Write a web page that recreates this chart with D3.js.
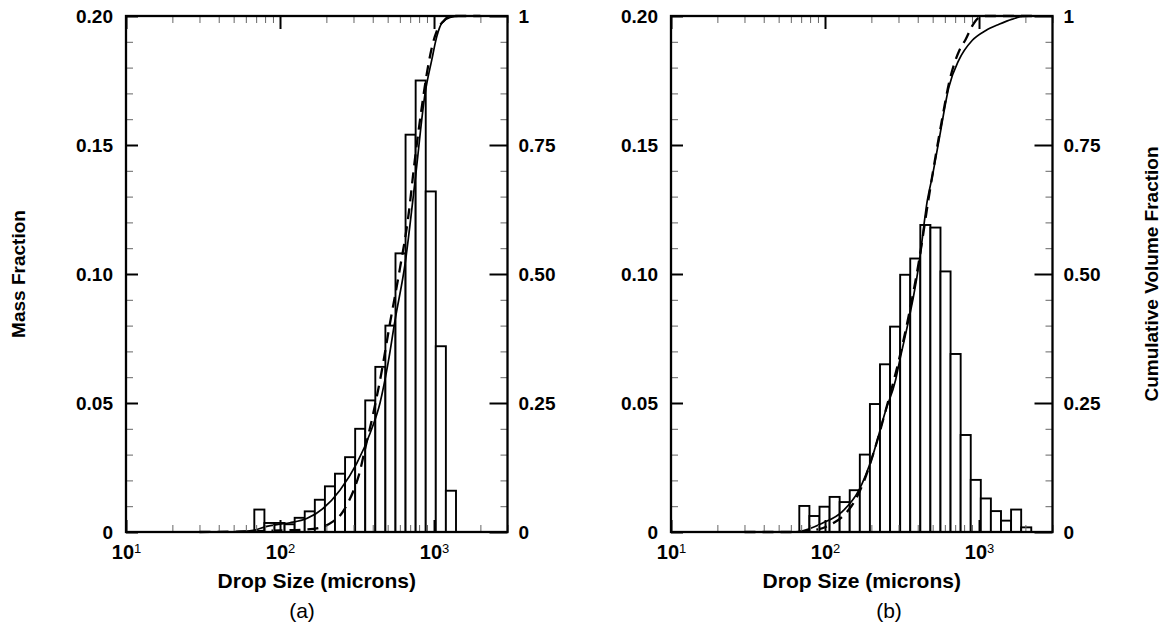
<!DOCTYPE html>
<html>
<head>
<meta charset="utf-8">
<script src="https://cdn.jsdelivr.net/npm/d3@7"></script>
<style>
  html, body { margin: 0; padding: 0; background: #fff; }
  svg { display: block; }
  text { font-family: "Liberation Sans", Arial, Helvetica, sans-serif; }
</style>
</head>
<body>
<svg id="chart" width="1170" height="640"></svg>
<script>
// ---------------- data ----------------
const xDomain = [10, 3000];
const xMajorTicks = [10, 100, 1000];
const xMinorTicks = [20, 30, 40, 50, 60, 70, 80, 90, 200, 300, 400, 500, 600, 700, 800, 900, 2000, 3000];
const xTickExponents = ["1", "2", "3"];

const massMajorTicks = [0, 0.05, 0.10, 0.15, 0.20];
const massTickLabels = ["0", "0.05", "0.10", "0.15", "0.20"];
const massMinorTicks = [0.01, 0.02, 0.03, 0.04, 0.06, 0.07, 0.08, 0.09, 0.11, 0.12, 0.13, 0.14, 0.16, 0.17, 0.18, 0.19];
const cumMajorTicks = [0, 0.25, 0.5, 0.75, 1];
const cumTickLabels = ["0", "0.25", "0.50", "0.75", "1"];
const cumMinorTicks = [0.05, 0.1, 0.15, 0.2, 0.3, 0.35, 0.4, 0.45, 0.55, 0.6, 0.65, 0.7, 0.8, 0.85, 0.9, 0.95];

// histogram bin edges (microns), shared by both panels
const binEdges = [68.1, 79.2, 92.1, 107.1, 124.5, 144.7, 168.3, 195.7, 227.5, 264.5, 307.6, 357.6,
                  415.8, 483.4, 562.1, 653.5, 759.9, 883.5, 1027, 1194, 1389, 1615, 1878, 2184];

// panel (a)
const massA = [0.0087, 0.0035, 0.0035, 0.003, 0.0055, 0.008, 0.0125, 0.0177, 0.0226, 0.029,
               0.040, 0.051, 0.064, 0.080, 0.108, 0.154, 0.175, 0.132, 0.072, 0.016];
const solidSizeA = [50, 67, 82, 100, 116, 149, 191, 245, 315, 384, 446, 505, 558, 649, 753, 875, 967, 1042, 1122, 1271, 1500, 2000];
const solidCumA  = [0, 0.003, 0.011, 0.015, 0.018, 0.026, 0.046, 0.081, 0.133, 0.191, 0.25, 0.33, 0.41, 0.52, 0.68, 0.85, 0.915, 0.96, 0.986, 0.997, 1.0, 1.0];
const dashSizeA  = [30, 60, 100, 150, 190, 220, 250, 280, 300, 325, 356, 400, 450, 518, 600, 680, 750, 830, 900, 970, 1040, 1150, 1300, 2000];
const dashCumA   = [0, 0.001, 0.003, 0.005, 0.01, 0.02, 0.035, 0.06, 0.08, 0.11, 0.16, 0.225, 0.3, 0.405, 0.51, 0.61, 0.72, 0.82, 0.89, 0.94, 0.97, 0.99, 1.0, 1.0];

// panel (b)
const massB = [0.0101, 0.0062, 0.0098, 0.0136, 0.0116, 0.0162, 0.030, 0.0496, 0.065, 0.0796, 0.0997, 0.106,
               0.119, 0.118, 0.101, 0.069, 0.0376, 0.0202, 0.013, 0.0081, 0.0044, 0.0087, 0.0018];
const solidSizeB = [60, 68, 96, 130, 166, 203, 248, 287, 303, 408, 462, 498, 550, 638, 741, 905, 1107, 1349, 1645, 1909, 2450];
const solidCumB  = [0, 0.001, 0.017, 0.04, 0.081, 0.146, 0.236, 0.294, 0.327, 0.52, 0.643, 0.69, 0.76, 0.863, 0.915, 0.953, 0.972, 0.984, 0.994, 0.999, 1.0];
const dashSizeB  = [30, 60, 90, 110, 133, 153, 180, 210, 250, 300, 350, 410, 470, 560, 650, 750, 820, 900, 1000, 1100, 2400];
const dashCumB   = [0, 0, 0.005, 0.015, 0.033, 0.056, 0.1, 0.16, 0.24, 0.33, 0.42, 0.53, 0.645, 0.78, 0.88, 0.935, 0.955, 0.98, 0.997, 1.0, 1.0];

const panelLabels = ["(a)", "(b)"];
const xTitle = "Drop Size (microns)";
const yLeftTitle = "Mass Fraction";
const yRightTitle = "Cumulative Volume Fraction";

// ---------------- layout ----------------
const svg = d3.select("#chart");
svg.append("rect").attr("width", 1170).attr("height", 640).attr("fill", "#fff");

const yTop = 16, yBottom = 532;
const panelWidth = 381.5;
const panels = [
  { x0: 126, captionX: 302, mass: massA, solid: [solidSizeA, solidCumA], dash: [dashSizeA, dashCumA], label: panelLabels[0] },
  { x0: 671, captionX: 889, mass: massB, solid: [solidSizeB, solidCumB], dash: [dashSizeB, dashCumB], label: panelLabels[1] }
];

const yMass = d3.scaleLinear().domain([0, 0.2]).range([yBottom, yTop]);
const yCum = d3.scaleLinear().domain([0, 1]).range([yBottom, yTop]);

panels.forEach(p => {
  const x = d3.scaleLog().domain(xDomain).range([p.x0, p.x0 + panelWidth]);
  const g = svg.append("g");

  // bars
  g.append("g").selectAll("rect").data(p.mass).join("rect")
    .attr("x", (d, i) => x(binEdges[i]))
    .attr("width", (d, i) => x(binEdges[i + 1]) - x(binEdges[i]))
    .attr("y", d => yMass(d))
    .attr("height", d => yMass(0) - yMass(d))
    .attr("fill", "#fff")
    .attr("stroke", "#000")
    .attr("stroke-width", 1.9);

  // curves
  const line = d3.line().x(d => x(d[0])).y(d => yCum(d[1])).curve(d3.curveMonotoneX);
  const solidPts = p.solid[0].map((s, i) => [s, p.solid[1][i]]);
  const dashPts = p.dash[0].map((s, i) => [s, p.dash[1][i]]);
  g.append("path").attr("d", line(dashPts)).attr("fill", "none")
    .attr("stroke", "#000").attr("stroke-width", 2.3).attr("stroke-dasharray", "11,7");
  g.append("path").attr("d", line(solidPts)).attr("fill", "none")
    .attr("stroke", "#000").attr("stroke-width", 1.7);

  // axes
  const styleAxis = (sel, majorW) => {
    sel.select(".domain").remove();
    sel.selectAll(".tick line").attr("stroke", "#000").attr("stroke-width", majorW);
  };
  // bottom
  g.append("g").attr("transform", `translate(0,${yBottom})`)
    .call(d3.axisBottom(x).tickValues(xMinorTicks).tickSize(-7).tickFormat(""))
    .call(s => styleAxis(s, 1)).selectAll(".tick line").attr("stroke", "#666");
  const bx = g.append("g").attr("transform", `translate(0,${yBottom})`)
    .call(d3.axisBottom(x).tickValues(xMajorTicks).tickSize(-12).tickPadding(13).tickFormat(""))
    .call(s => styleAxis(s, 2));
  bx.selectAll(".tick text").each(function(d, i) {
    const t = d3.select(this).attr("fill", "#000").attr("font-size", 20).attr("font-weight", "bold");
    t.append("tspan").text("10");
    t.append("tspan").attr("dy", "-0.45em").attr("font-size", 13).attr("font-weight", "normal").text(xTickExponents[i]);
  });
  // top
  g.append("g").attr("transform", `translate(0,${yTop})`)
    .call(d3.axisTop(x).tickValues(xMinorTicks).tickSize(-7).tickFormat(""))
    .call(s => styleAxis(s, 1)).selectAll(".tick line").attr("stroke", "#666");
  g.append("g").attr("transform", `translate(0,${yTop})`)
    .call(d3.axisTop(x).tickValues(xMajorTicks).tickSize(-13).tickFormat(""))
    .call(s => styleAxis(s, 2));
  // left
  g.append("g").attr("transform", `translate(${p.x0},0)`)
    .call(d3.axisLeft(yMass).tickValues(massMinorTicks).tickSize(-7).tickFormat(""))
    .call(s => styleAxis(s, 1)).selectAll(".tick line").attr("stroke", "#666");
  g.append("g").attr("transform", `translate(${p.x0},0)`)
    .call(d3.axisLeft(yMass).tickValues(massMajorTicks).tickSize(-12).tickPadding(13)
      .tickFormat((d, i) => massTickLabels[i]))
    .call(s => styleAxis(s, 2))
    .selectAll(".tick text").attr("fill", "#000").attr("font-size", 19).attr("font-weight", "bold");
  // right
  const xr = p.x0 + panelWidth;
  g.append("g").attr("transform", `translate(${xr},0)`)
    .call(d3.axisRight(yCum).tickValues(cumMinorTicks).tickSize(-7).tickFormat(""))
    .call(s => styleAxis(s, 1)).selectAll(".tick line").attr("stroke", "#666");
  g.append("g").attr("transform", `translate(${xr},0)`)
    .call(d3.axisRight(yCum).tickValues(cumMajorTicks).tickSize(-18).tickPadding(11)
      .tickFormat((d, i) => cumTickLabels[i]))
    .call(s => styleAxis(s, 2))
    .selectAll(".tick text").attr("fill", "#000").attr("font-size", 19).attr("font-weight", "bold");

  // frame
  g.append("rect").attr("x", p.x0).attr("y", yTop).attr("width", panelWidth).attr("height", yBottom - yTop)
    .attr("fill", "none").attr("stroke", "#000").attr("stroke-width", 2.3);

  // titles
  const cx = p.x0 + panelWidth / 2;
  g.append("text").attr("x", cx).attr("y", 588).attr("text-anchor", "middle")
    .attr("font-size", 21).attr("font-weight", "bold").text(xTitle);
  g.append("text").attr("x", p.captionX).attr("y", 618).attr("text-anchor", "middle")
    .attr("font-size", 21).text(p.label);
});

svg.append("text").attr("transform", `translate(25,${(yTop + yBottom) / 2}) rotate(-90)`)
  .attr("text-anchor", "middle").attr("font-size", 19).attr("font-weight", "bold").text(yLeftTitle);
svg.append("text").attr("transform", `translate(1158,${(yTop + yBottom) / 2}) rotate(-90)`)
  .attr("text-anchor", "middle").attr("font-size", 19).attr("font-weight", "bold").text(yRightTitle);
</script>
</body>
</html>
